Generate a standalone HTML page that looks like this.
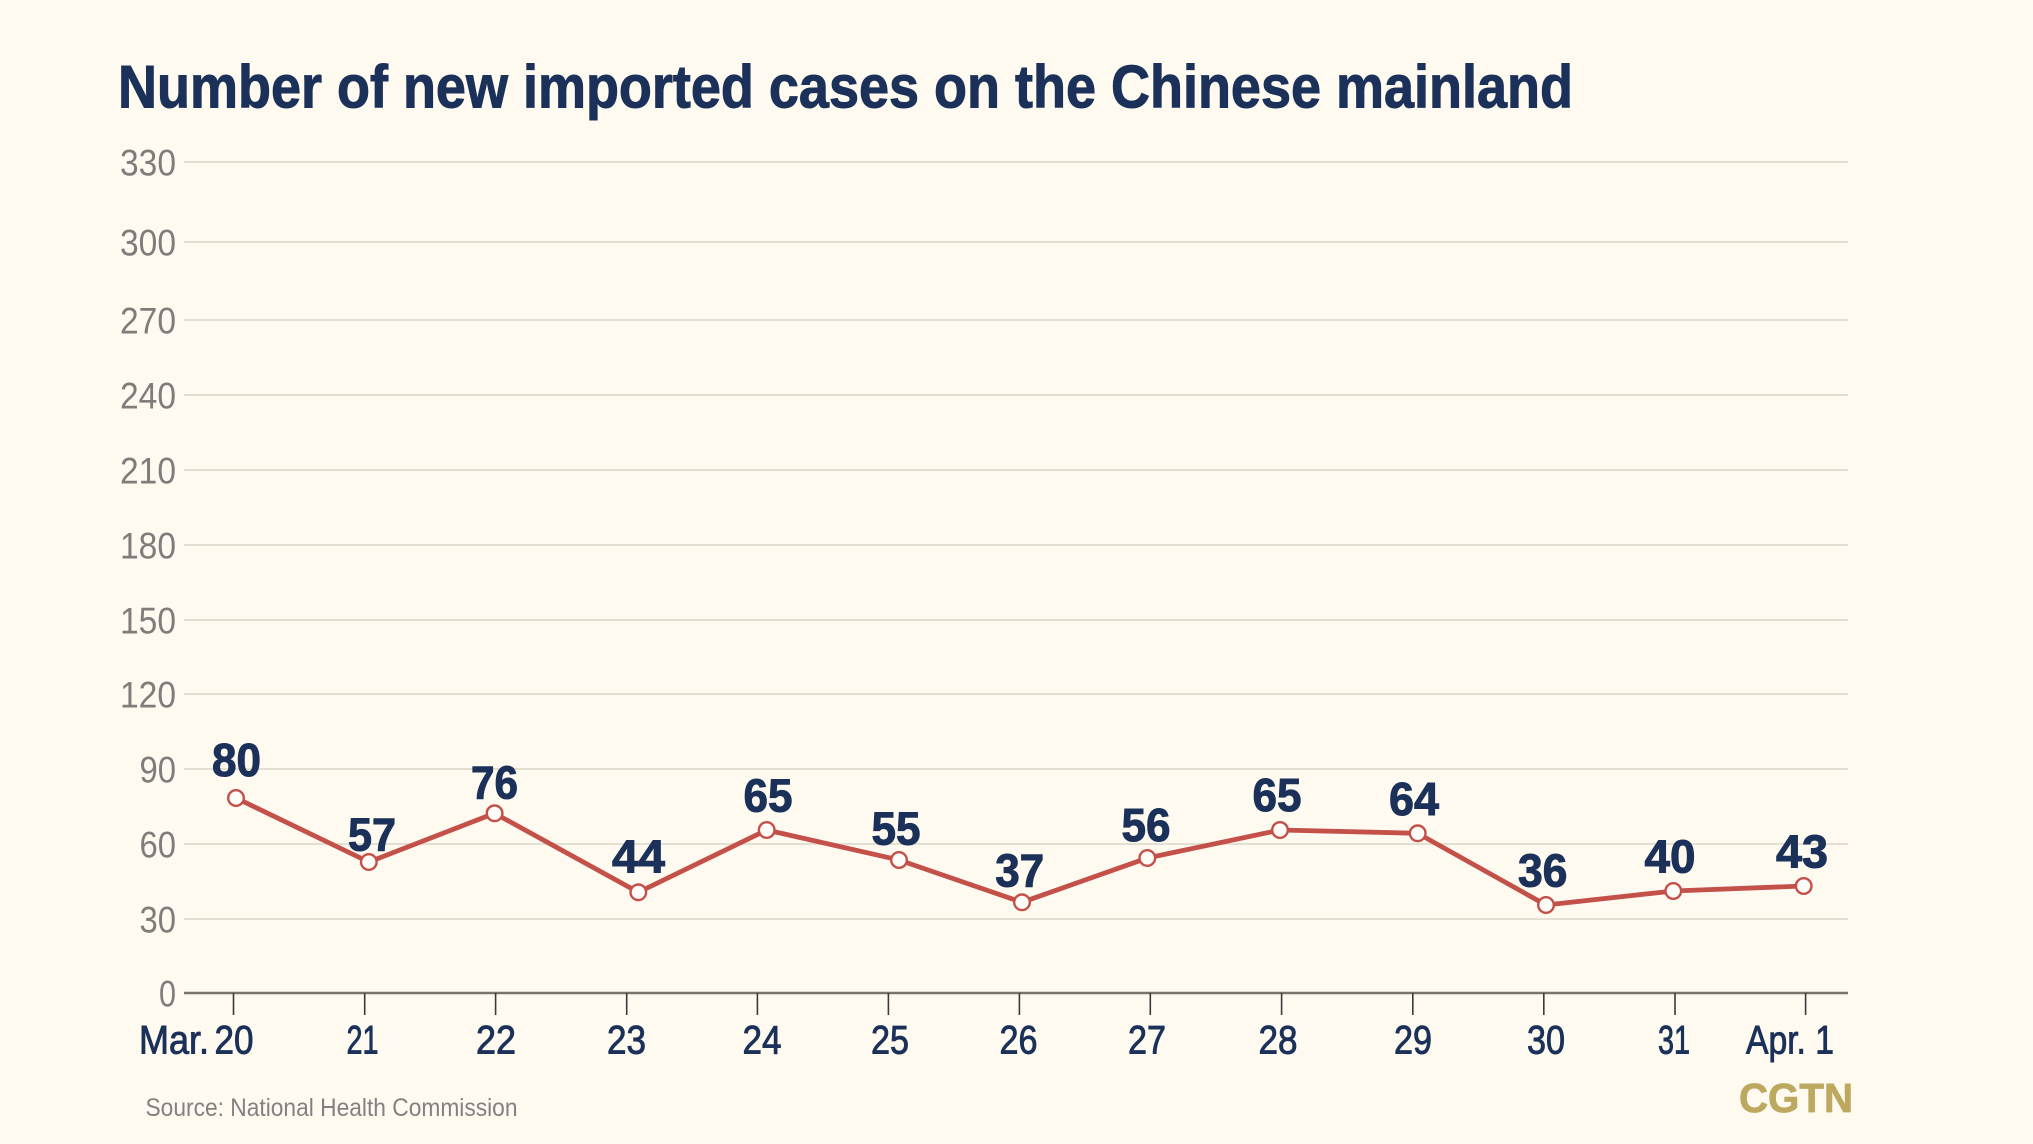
<!DOCTYPE html>
<html>
<head>
<meta charset="utf-8">
<style>
  html, body { margin: 0; padding: 0; background: #fefaf0; }
  body { width: 2033px; height: 1144px; overflow: hidden; }
  svg { display: block; }
</style>
</head>
<body>
<svg width="2033" height="1144" viewBox="0 0 2033 1144" xmlns="http://www.w3.org/2000/svg">
  <rect x="0" y="0" width="2033" height="1144" fill="#fefaf0"/>

  <!-- Title -->
  <text x="118" y="107.5" font-family="Liberation Sans, sans-serif" font-weight="bold" font-size="60" fill="#1b3159" stroke="#1b3159" stroke-width="1" textLength="1455" lengthAdjust="spacingAndGlyphs">Number of new imported cases on the Chinese mainland</text>

  <!-- Gridlines -->
  <g stroke="#e3dfd3" stroke-width="2">
    <line x1="184" y1="162" x2="1848" y2="162"/>
    <line x1="184" y1="242" x2="1848" y2="242"/>
    <line x1="184" y1="320" x2="1848" y2="320"/>
    <line x1="184" y1="395" x2="1848" y2="395"/>
    <line x1="184" y1="470" x2="1848" y2="470"/>
    <line x1="184" y1="545" x2="1848" y2="545"/>
    <line x1="184" y1="620" x2="1848" y2="620"/>
    <line x1="184" y1="694" x2="1848" y2="694"/>
    <line x1="184" y1="769" x2="1848" y2="769"/>
    <line x1="184" y1="844" x2="1848" y2="844"/>
    <line x1="184" y1="919" x2="1848" y2="919"/>
  </g>

  <!-- Y labels -->
  <g font-family="Liberation Sans, sans-serif" font-size="37.5" fill="#7f7d79" text-anchor="end">
    <text x="176" y="175.5" textLength="56" lengthAdjust="spacingAndGlyphs">330</text>
    <text x="176" y="255.5" textLength="56" lengthAdjust="spacingAndGlyphs">300</text>
    <text x="176" y="333.5" textLength="56" lengthAdjust="spacingAndGlyphs">270</text>
    <text x="176" y="408.5" textLength="56" lengthAdjust="spacingAndGlyphs">240</text>
    <text x="176" y="483.5" textLength="56" lengthAdjust="spacingAndGlyphs">210</text>
    <text x="176" y="558.5" textLength="56" lengthAdjust="spacingAndGlyphs">180</text>
    <text x="176" y="633.5" textLength="56" lengthAdjust="spacingAndGlyphs">150</text>
    <text x="176" y="707.5" textLength="56" lengthAdjust="spacingAndGlyphs">120</text>
    <text x="176" y="782.5" textLength="36.5" lengthAdjust="spacingAndGlyphs">90</text>
    <text x="176" y="857.5" textLength="36.5" lengthAdjust="spacingAndGlyphs">60</text>
    <text x="176" y="932.5" textLength="36.5" lengthAdjust="spacingAndGlyphs">30</text>
    <text x="176" y="1006.5" textLength="17" lengthAdjust="spacingAndGlyphs">0</text>
  </g>

  <!-- Axis -->
  <line x1="184" y1="993" x2="1848" y2="993" stroke="#78746b" stroke-width="2.5"/>
  <g stroke="#3a3a3a" stroke-width="1.6">
    <line x1="233.5" y1="993" x2="233.5" y2="1015"/>
    <line x1="364.7" y1="993" x2="364.7" y2="1015"/>
    <line x1="495.6" y1="993" x2="495.6" y2="1015"/>
    <line x1="626.7" y1="993" x2="626.7" y2="1015"/>
    <line x1="757.4" y1="993" x2="757.4" y2="1015"/>
    <line x1="888.4" y1="993" x2="888.4" y2="1015"/>
    <line x1="1019.4" y1="993" x2="1019.4" y2="1015"/>
    <line x1="1150.3" y1="993" x2="1150.3" y2="1015"/>
    <line x1="1281.6" y1="993" x2="1281.6" y2="1015"/>
    <line x1="1412.8" y1="993" x2="1412.8" y2="1015"/>
    <line x1="1543.8" y1="993" x2="1543.8" y2="1015"/>
    <line x1="1675" y1="993" x2="1675" y2="1015"/>
    <line x1="1805.6" y1="993" x2="1805.6" y2="1015"/>
  </g>

  <!-- X labels -->
  <g font-family="Liberation Sans, sans-serif" font-size="39.5" fill="#1b3159" stroke="#1b3159" stroke-width="0.9">
    <text x="139" y="1053.5" textLength="70" lengthAdjust="spacingAndGlyphs">Mar.</text>
    <text x="214.5" y="1053.5" textLength="39" lengthAdjust="spacingAndGlyphs">20</text>
    <text x="346.5" y="1053.5" textLength="32" lengthAdjust="spacingAndGlyphs">21</text>
    <text x="476" y="1053.5" textLength="40" lengthAdjust="spacingAndGlyphs">22</text>
    <text x="607" y="1053.5" textLength="39" lengthAdjust="spacingAndGlyphs">23</text>
    <text x="742.5" y="1053.5" textLength="39" lengthAdjust="spacingAndGlyphs">24</text>
    <text x="871" y="1053.5" textLength="38" lengthAdjust="spacingAndGlyphs">25</text>
    <text x="999.5" y="1053.5" textLength="38" lengthAdjust="spacingAndGlyphs">26</text>
    <text x="1128" y="1053.5" textLength="38" lengthAdjust="spacingAndGlyphs">27</text>
    <text x="1258.5" y="1053.5" textLength="39" lengthAdjust="spacingAndGlyphs">28</text>
    <text x="1394" y="1053.5" textLength="38" lengthAdjust="spacingAndGlyphs">29</text>
    <text x="1527" y="1053.5" textLength="38" lengthAdjust="spacingAndGlyphs">30</text>
    <text x="1658" y="1053.5" textLength="32" lengthAdjust="spacingAndGlyphs">31</text>
    <text x="1746" y="1053.5" textLength="88" lengthAdjust="spacingAndGlyphs">Apr. 1</text>
  </g>

  <!-- Series line -->
  <polyline fill="none" stroke="#c4504a" stroke-width="4.8" stroke-linejoin="round" stroke-linecap="round"
    points="236,798 368.8,862 494.6,813.3 638.3,892.3 766.7,830 899,860 1022,902.3 1147.3,858 1280,830 1417.7,833.3 1546,905 1673.3,891 1803.7,886"/>

  <!-- Markers -->
  <g fill="#fffdf8" stroke="#c4504a" stroke-width="2.4">
    <circle cx="236" cy="798" r="7.8"/>
    <circle cx="368.8" cy="862" r="7.8"/>
    <circle cx="494.6" cy="813.3" r="7.8"/>
    <circle cx="638.3" cy="892.3" r="7.8"/>
    <circle cx="766.7" cy="830" r="7.8"/>
    <circle cx="899" cy="860" r="7.8"/>
    <circle cx="1022" cy="902.3" r="7.8"/>
    <circle cx="1147.3" cy="858" r="7.8"/>
    <circle cx="1280" cy="830" r="7.8"/>
    <circle cx="1417.7" cy="833.3" r="7.8"/>
    <circle cx="1546" cy="905" r="7.8"/>
    <circle cx="1673.3" cy="891" r="7.8"/>
    <circle cx="1803.7" cy="886" r="7.8"/>
  </g>

  <!-- Data labels -->
  <g font-family="Liberation Sans, sans-serif" font-weight="bold" font-size="46.5" fill="#1b3159" stroke="#1b3159" stroke-width="1" text-anchor="middle">
    <text x="236.5" y="776" textLength="49" lengthAdjust="spacingAndGlyphs">80</text>
    <text x="372" y="850.5" textLength="48" lengthAdjust="spacingAndGlyphs">57</text>
    <text x="494.5" y="798.3" textLength="47" lengthAdjust="spacingAndGlyphs">76</text>
    <text x="638.5" y="872.7" textLength="53" lengthAdjust="spacingAndGlyphs">44</text>
    <text x="768" y="811.7" textLength="49" lengthAdjust="spacingAndGlyphs">65</text>
    <text x="896" y="844.3" textLength="49" lengthAdjust="spacingAndGlyphs">55</text>
    <text x="1019.7" y="886.7" textLength="49" lengthAdjust="spacingAndGlyphs">37</text>
    <text x="1146" y="841" textLength="49" lengthAdjust="spacingAndGlyphs">56</text>
    <text x="1277" y="811" textLength="49" lengthAdjust="spacingAndGlyphs">65</text>
    <text x="1414" y="815" textLength="50" lengthAdjust="spacingAndGlyphs">64</text>
    <text x="1542.7" y="886.7" textLength="49.5" lengthAdjust="spacingAndGlyphs">36</text>
    <text x="1670" y="872.7" textLength="51" lengthAdjust="spacingAndGlyphs">40</text>
    <text x="1802" y="867.3" textLength="52" lengthAdjust="spacingAndGlyphs">43</text>
  </g>

  <!-- Source -->
  <text x="145.5" y="1116" font-family="Liberation Sans, sans-serif" font-size="25" fill="#838180" textLength="372" lengthAdjust="spacingAndGlyphs">Source: National Health Commission</text>

  <!-- CGTN logo -->
  <text x="1739" y="1112" font-family="Liberation Sans, sans-serif" font-weight="bold" font-size="41" fill="#bca85e" stroke="#bca85e" stroke-width="0.8" textLength="114" lengthAdjust="spacingAndGlyphs">CGTN</text>
</svg>
</body>
</html>
